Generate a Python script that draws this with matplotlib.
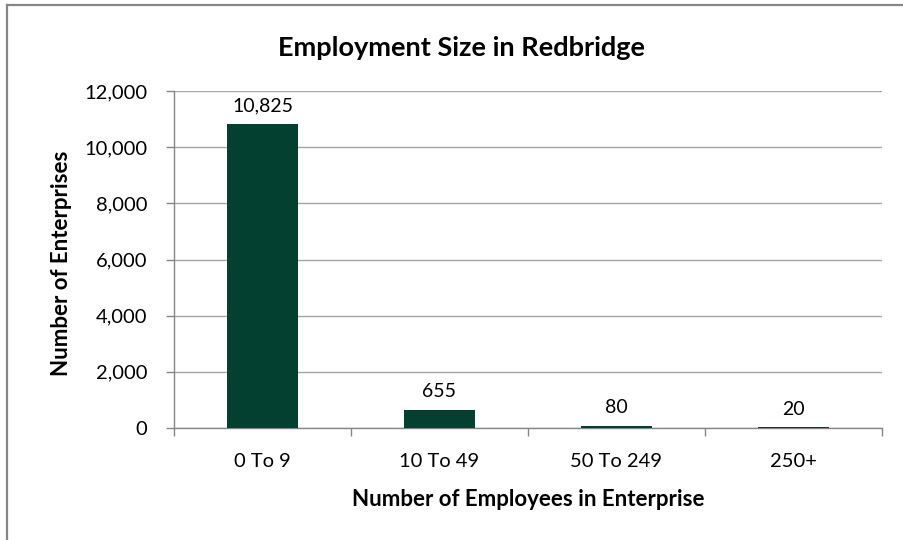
import matplotlib
matplotlib.use("Agg")
import matplotlib.pyplot as plt
from matplotlib.lines import Line2D
from matplotlib.ticker import FuncFormatter

categories = ["0 To 9", "10 To 49", "50 To 249", "250+"]
values = [10825, 655, 80, 20]
y_ticks = [0, 2000, 4000, 6000, 8000, 10000, 12000]

title = "Employment Size in Redbridge"
xlabel = "Number of Employees in Enterprise"
ylabel = "Number of Enterprises"

plt.rcParams['font.family'] = ['Lato', 'DejaVu Sans']

fig = plt.figure(figsize=(9.04, 5.4), dpi=100)
ax = fig.add_axes([174/904, 1-428/540, (882-174)/904, (428-91)/540])

bar_color = "#034030"
axis_color = "#868686"
grid_color = "#a6a6a6"

x = list(range(len(categories)))
bars = ax.bar(x, values, width=0.40, color=bar_color, zorder=3)

ax.set_xlim(-0.5, len(categories) - 0.5)
ax.set_ylim(0, 12000)
ax.set_yticks(y_ticks)
ax.yaxis.set_major_formatter(FuncFormatter(lambda v, p: f"{int(v):,}"))
ax.set_xticks(x)
ax.set_xticklabels(categories)
ax.set_xticks([i - 0.5 for i in range(len(categories) + 1)], minor=True)

ax.tick_params(axis='x', which='major', length=0, pad=18, labelsize=14.5, colors='#000000')
ax.tick_params(axis='x', which='minor', length=6, width=1, color=axis_color, direction='out')
ax.tick_params(axis='y', length=6, width=1, color=axis_color, direction='out', pad=13, labelsize=14.5)

ax.grid(axis='y', color=grid_color, linewidth=1, zorder=0)
for s in ['top', 'right']:
    ax.spines[s].set_visible(False)
for s in ['left', 'bottom']:
    ax.spines[s].set_color(axis_color)
    ax.spines[s].set_linewidth(1)

for xi, v in zip(x, values):
    ax.annotate(f"{v:,}", xy=(xi, v), xytext=(0, 7), textcoords='offset points',
                ha='center', va='bottom', fontsize=14, color='#000000')

fig.text(461/904, 1-48/540, title, ha='center', va='center', fontsize=19.5, fontweight='bold')
fig.text(528/904, 1-500/540, xlabel, ha='center', va='center', fontsize=16, fontweight='bold')
fig.text(62/904, 1-263/540, ylabel, ha='center', va='center', rotation=90, fontsize=16, fontweight='bold')

# chart frame (left and top edges visible)
fig.add_artist(Line2D([7/904, 7/904], [0, 1-5/540], transform=fig.transFigure, color=axis_color, linewidth=1.6))
fig.add_artist(Line2D([7/904, 1], [1-5/540, 1-5/540], transform=fig.transFigure, color=axis_color, linewidth=1.6))

fig.savefig("out.png", dpi=100)
